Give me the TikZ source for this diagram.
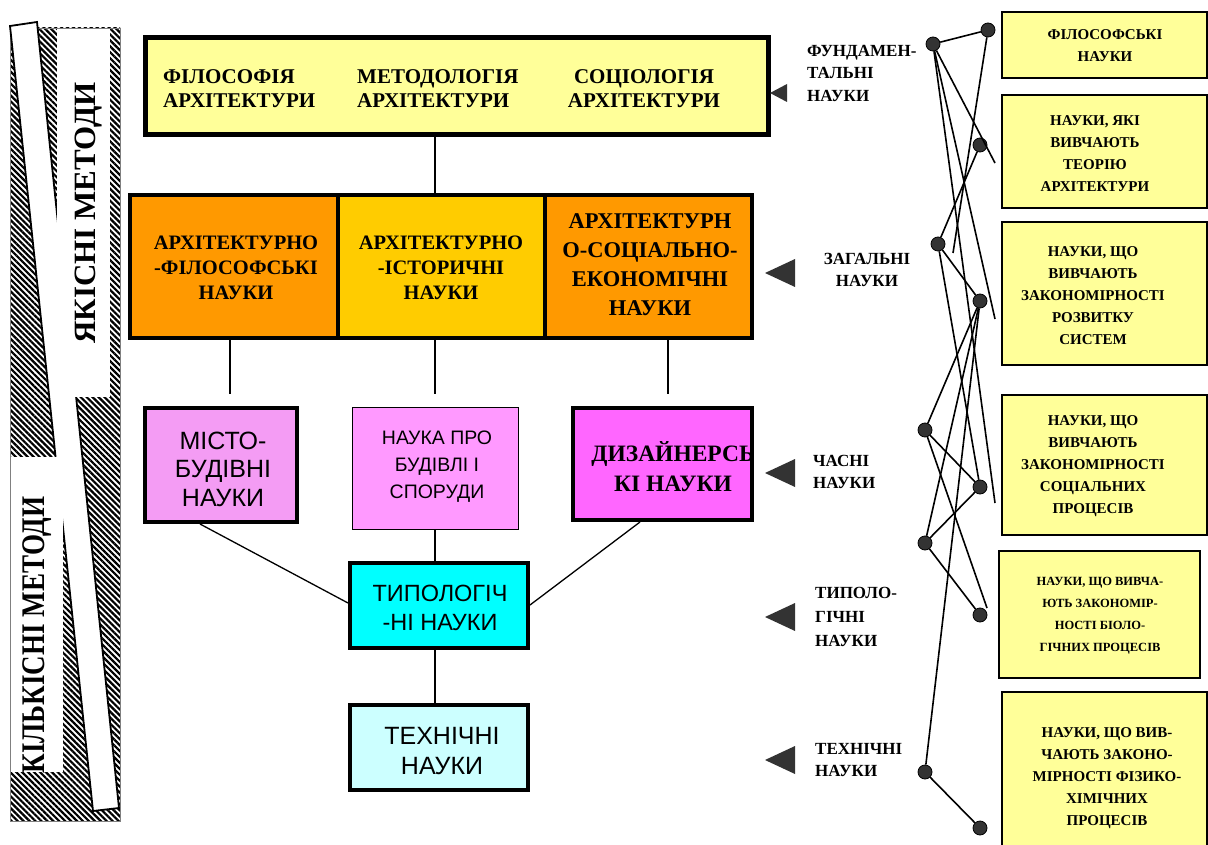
\documentclass[tikz,border=0pt]{standalone}
\usepackage{fontspec}
\setmainfont{Liberation Serif}
\newfontfamily\arialf{Liberation Sans}
\usetikzlibrary{patterns.meta}
\definecolor{lyel}{HTML}{FFFF99}
\definecolor{orng}{HTML}{FF9900}
\definecolor{goldc}{HTML}{FFCC00}
\definecolor{pinkA}{HTML}{F49CF4}
\definecolor{pinkB}{HTML}{FF99FF}
\definecolor{magc}{HTML}{FF66FF}
\definecolor{cyanA}{HTML}{00FFFF}
\definecolor{cyanB}{HTML}{CCFFFF}
\definecolor{dotc}{HTML}{333333}
\begin{document}
\begin{tikzpicture}[x=1pt,y=-1pt,
  bigbox/.style={draw=black, line width=4pt, align=center, inner sep=2pt},
  btxt/.style={align=center, inner sep=0pt},
  rbox/.style={draw=black, line width=1.5pt, fill=lyel},
  rtxt/.style={align=center, inner sep=0pt, font=\fontsize{15}{22}\selectfont\bfseries},
  lbl/.style={align=left, inner sep=0pt, font=\fontsize{17}{22.5}\selectfont\bfseries},
  dot/.style={circle, draw=black, fill=dotc, line width=0.8pt, minimum size=14pt, inner sep=0pt},
  net/.style={line width=1.6pt},
  conn/.style={line width=1.3pt},
  tri/.style={fill=dotc}
]
\useasboundingbox (0,0) rectangle (1208,845);

% ---------- left bar ----------
\fill[white] (10,28) rectangle (120,821);
\fill[pattern={Lines[angle=-45,distance=4.2pt,line width=2.2pt]}] (10,28) rectangle (120,821);
\draw[gray, line width=0.8pt] (10,28) rectangle (120,821);
\filldraw[fill=white, draw=black, line width=1.8pt] (10,26) -- (37,22) -- (119,808) -- (93,811) -- cycle;
\fill[white] (57,29) rectangle (110,397);
\fill[white] (11,457) rectangle (63,772);
\node[rotate=90, inner sep=0pt, font=\fontsize{31}{31}\selectfont\bfseries] (qual) at (89,213) {ЯКІСНІ МЕТОДИ};
\node[rotate=90, inner sep=0pt] (quant) at (37,635) {\scalebox{0.82}[1]{\fontsize{33}{33}\selectfont\bfseries КІЛЬКІСНІ МЕТОДИ}};

% ---------- central hierarchy ----------
\node[bigbox, fill=lyel, line width=5pt, minimum width=623pt, minimum height=97pt] (fund) at (456.5,86.5) {};
\node[btxt, align=left, anchor=west, font=\fontsize{21}{24}\selectfont\bfseries] (f1) at (163,89) {ФІЛОСОФІЯ\\АРХІТЕКТУРИ};
\node[btxt, align=left, anchor=west, font=\fontsize{21}{24}\selectfont\bfseries] (f2) at (357,89) {МЕТОДОЛОГІЯ\\АРХІТЕКТУРИ};
\node[btxt, font=\fontsize{21}{24}\selectfont\bfseries] (f3) at (644,89) {СОЦІОЛОГІЯ\\АРХІТЕКТУРИ};

\node[bigbox, fill=orng, minimum width=208pt, minimum height=143pt] (afil) at (234,266.5) {};
\node[bigbox, fill=goldc, minimum width=207pt, minimum height=143pt] (aist) at (441.5,266.5) {};
\node[bigbox, fill=orng, minimum width=207pt, minimum height=143pt] (asoc) at (648.5,266.5) {};
\node[btxt, font=\fontsize{20.5}{25}\selectfont\bfseries] (afilt) at (236,268) {АРХІТЕКТУРНО\\-ФІЛОСОФСЬКІ\\НАУКИ};
\node[btxt, font=\fontsize{20.5}{25}\selectfont\bfseries] (aistt) at (441,268) {АРХІТЕКТУРНО\\-ІСТОРИЧНІ\\НАУКИ};
\node[btxt, font=\fontsize{22.5}{29}\selectfont\bfseries] (asoct) at (650,265) {АРХІТЕКТУРН\\О-СОЦІАЛЬНО-\\ЕКОНОМІЧНІ\\НАУКИ};

\node[bigbox, fill=pinkA, minimum width=152pt, minimum height=114pt] (mist) at (221,465) {};
\node[btxt, font=\arialf\fontsize{25}{28.5}\selectfont] (mistt) at (223,469) {МІСТО-\\БУДІВНІ\\НАУКИ};
\node[draw=black, line width=1pt, fill=pinkB, minimum width=166pt, minimum height=122pt] (bud) at (435,468) {};
\node[btxt, font=\arialf\fontsize{19.5}{27}\selectfont] (budt) at (437,467) {НАУКА ПРО\\БУДІВЛІ І\\СПОРУДИ};
\node[bigbox, fill=magc, minimum width=179pt, minimum height=112pt] (diz) at (662.5,464) {};
\node[btxt, font=\fontsize{23.5}{30}\selectfont\bfseries] (dizt) at (673,467) {ДИЗАЙНЕРСЬ\\КІ НАУКИ};

\node[bigbox, fill=cyanA, minimum width=178pt, minimum height=85pt] (typ) at (439,605.5) {};
\node[btxt, font=\arialf\fontsize{23.5}{29}\selectfont] (typt) at (440,608) {ТИПОЛОГІЧ\\-НІ НАУКИ};
\node[bigbox, fill=cyanB, minimum width=178pt, minimum height=85pt] (tech) at (439,747.5) {};
\node[btxt, font=\arialf\fontsize{25}{30}\selectfont] (techt) at (442,751) {ТЕХНІЧНІ\\НАУКИ};

% connectors of the hierarchy
\draw[conn] (fund.south -| 435,0) -- (aist.north -| 435,0);
\draw[conn] (afil.south -| 230,0) -- ++(0,54);
\draw[conn] (aist.south -| 435,0) -- ++(0,54);
\draw[conn] (asoc.south -| 668,0) -- ++(0,54);
\draw[conn] (bud.south -| 435,0) -- (typ.north -| 435,0);
\draw[conn] (typ.south -| 435,0) -- (tech.north -| 435,0);
\draw[conn] (mist.south -| 200,0) -- (typ.west |- 0,603);
\draw[conn] (diz.south -| 640,0) -- (typ.east |- 0,605);

% ---------- level labels with triangles ----------
\fill[tri] (770,93) -- (787,84) -- (787,102) -- cycle;
\fill[tri] (765,273) -- (795,259) -- (795,287) -- cycle;
\fill[tri] (765,473) -- (795,459) -- (795,487) -- cycle;
\fill[tri] (765,617) -- (795,603) -- (795,631) -- cycle;
\fill[tri] (765,760) -- (795,746) -- (795,774) -- cycle;

\node[lbl, anchor=west] (lf) at (807,73) {ФУНДАМЕН-\\ТАЛЬНІ\\НАУКИ};
\node[lbl, align=center] (lz) at (867,270) {ЗАГАЛЬНІ\\НАУКИ};
\node[lbl, anchor=west] (lc) at (813,472) {ЧАСНІ\\НАУКИ};
\node[lbl, anchor=west, font=\fontsize{17}{24}\selectfont\bfseries] (lt) at (815,617) {ТИПОЛО-\\ГІЧНІ\\НАУКИ};
\node[lbl, anchor=west] (lh) at (815,760) {ТЕХНІЧНІ\\НАУКИ};

% ---------- right boxes ----------
\node[rbox, minimum width=205pt, minimum height=66pt] (b1) at (1104.5,45) {};
\node[rtxt] (b1t) at (1105,46) {ФІЛОСОФСЬКІ\\НАУКИ};
\node[rbox, minimum width=205pt, minimum height=113pt] (b2) at (1104.5,151.5) {};
\node[rtxt] (b2t) at (1095,154) {НАУКИ, ЯКІ\\ВИВЧАЮТЬ\\ТЕОРІЮ\\АРХІТЕКТУРИ};
\node[rbox, minimum width=205pt, minimum height=143pt] (b3) at (1104.5,293.5) {};
\node[rtxt] (b3t) at (1093,296) {НАУКИ, ЩО\\ВИВЧАЮТЬ\\ЗАКОНОМІРНОСТІ\\РОЗВИТКУ\\СИСТЕМ};
\node[rbox, minimum width=205pt, minimum height=140pt] (b4) at (1104.5,465) {};
\node[rtxt] (b4t) at (1093,466) {НАУКИ, ЩО\\ВИВЧАЮТЬ\\ЗАКОНОМІРНОСТІ\\СОЦІАЛЬНИХ\\ПРОЦЕСІВ};
\node[rbox, minimum width=201pt, minimum height=127pt] (b5) at (1099.5,614.5) {};
\node[rtxt, font=\fontsize{12.5}{22}\selectfont\bfseries] (b5t) at (1100,616) {НАУКИ, ЩО ВИВЧА-\\ЮТЬ ЗАКОНОМІР-\\НОСТІ БІОЛО-\\ГІЧНИХ ПРОЦЕСІВ};
\node[rbox, minimum width=205pt, minimum height=158pt] (b6) at (1104.5,771) {};
\node[rtxt] (b6t) at (1107,778) {НАУКИ, ЩО ВИВ-\\ЧАЮТЬ ЗАКОНО-\\МІРНОСТІ ФІЗИКО-\\ХІМІЧНИХ\\ПРОЦЕСІВ};

% ---------- network ----------
\node[dot] (L1) at (933,44) {};
\node[dot] (L2) at (938,244) {};
\node[dot] (L3) at (925,430) {};
\node[dot] (L4) at (925,543) {};
\node[dot] (L5) at (925,772) {};
\node[dot] (R1) at (988,30) {};
\node[dot] (R2) at (980,145) {};
\node[dot] (R3) at (980,301) {};
\node[dot] (R4) at (980,487) {};
\node[dot] (R5) at (980,615) {};
\node[dot] (R6) at (980,828) {};
\coordinate (e2) at (995,163);
\coordinate (e3) at (995,319);
\coordinate (e4) at (995,503);
\coordinate (e5) at (953,253);
\coordinate (e6) at (987,608);

\draw[net] (L1) -- (R1);
\draw[net] (L1) -- (e2);
\draw[net] (L1) -- (e3);
\draw[net] (L1) -- (e4);
\draw[net] (R1) -- (e5);
\draw[net] (R2) -- (L2);
\draw[net] (L2) -- (R3);
\draw[net] (L2) -- (R4);
\draw[net] (R3) -- (L3);
\draw[net] (R3) -- (L4);
\draw[net] (R3) -- (L5);
\draw[net] (L3) -- (R4);
\draw[net] (L3) -- (e6);
\draw[net] (L4) -- (R4);
\draw[net] (L4) -- (R5);
\draw[net] (L5) -- (R6);
\end{tikzpicture}
\end{document}
